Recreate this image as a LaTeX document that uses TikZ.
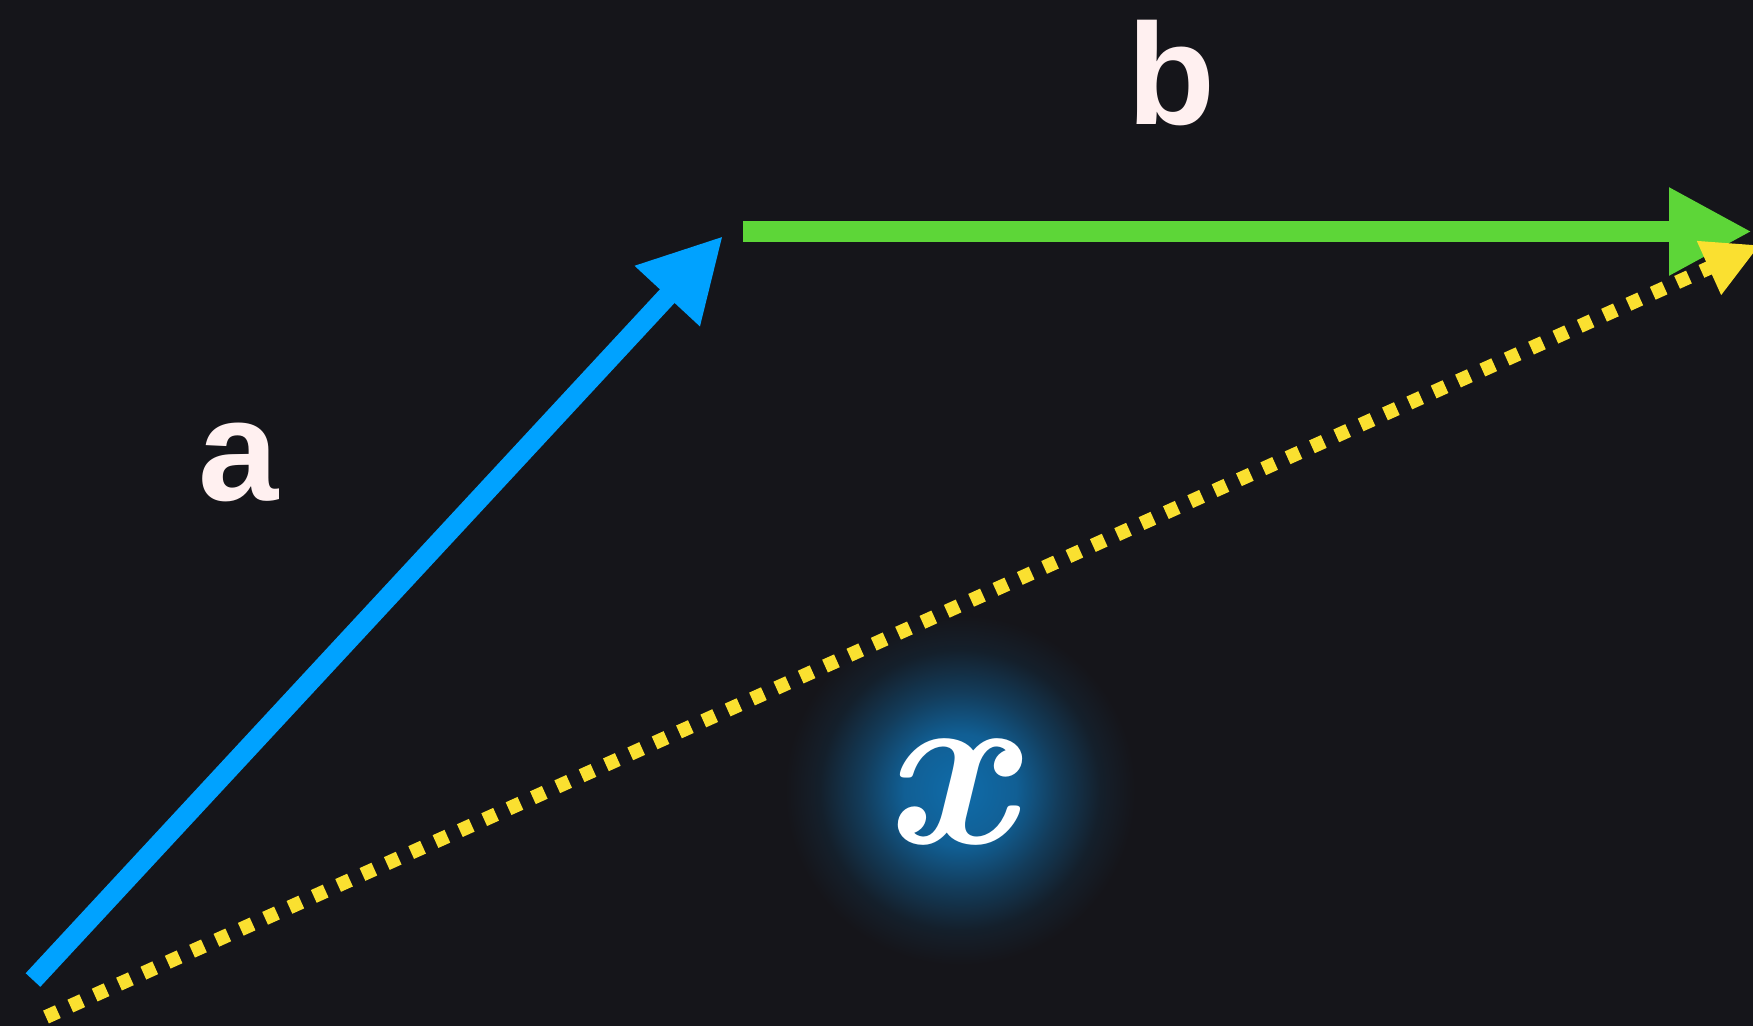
\documentclass[tikz,border=0pt]{standalone}
\usepackage{fontspec}
\newfontfamily\labelfont{Liberation Sans}
\newfontfamily\xfont{Latin Modern Roman}
\usetikzlibrary{arrows.meta}
\definecolor{bg}{RGB}{21,21,26}
\definecolor{vblue}{RGB}{0,162,255}
\definecolor{vgreen}{RGB}{93,214,56}
\definecolor{vyellow}{RGB}{250,224,48}
\definecolor{lbltext}{RGB}{255,240,240}
\definecolor{glowc}{RGB}{16,108,170}
\pgfdeclareradialshading{xglow}{\pgfpoint{0bp}{0bp}}{color(0bp)=(glowc); color(8bp)=(glowc!85!bg); color(14bp)=(glowc!45!bg); color(20bp)=(glowc!12!bg); color(25bp)=(bg); color(50bp)=(bg)}
\tikzset{
  vecA/.style={draw=vblue, line width=20pt, -{Triangle[length=82pt,width=83pt]}},
  vecB/.style={draw=vgreen, line width=21pt, -{Triangle[length=83pt,width=82pt]}},
  vecX/.style={draw=vyellow, line width=14pt, dash pattern=on 13pt off 13.7pt, -{Triangle[length=56pt,width=55pt]}},
  lbl/.style={inner sep=0pt, text=lbltext, font=\labelfont\bfseries\fontsize{144}{144}\selectfont},
  xlbl/.style={inner sep=0pt, text=white, font=\xfont\bfseries\itshape\fontsize{232}{232}\selectfont},
}
\begin{document}
\begin{tikzpicture}[x=1pt,y=-1pt]
\useasboundingbox (0,0) rectangle (1753,1026);
\fill[bg] (0,0) rectangle (1753,1026);
\clip (0,0) rectangle (1753,1026);
% glow behind x
\shade[shading=xglow] (960,790) circle (175pt);
% vectors
\coordinate (aS) at (33,980);
\coordinate (aE) at (723,236);
\coordinate (bS) at (743,231.5);
\coordinate (bE) at (1752,231.5);
\coordinate (xS) at (46,1017);
\coordinate (xE) at (1760,245);
\draw[vecA] (aS) -- (aE);
\draw[vecB] (bS) -- (bE);
\draw[vecX] (xS) -- (xE);
% labels
\node[lbl] (la) at (238.5,462) {a};
\node[lbl] (lb) at (1171.5,73.5) {b};
\node[xlbl] (lx) at (948,792) {x};
\end{tikzpicture}
\end{document}
